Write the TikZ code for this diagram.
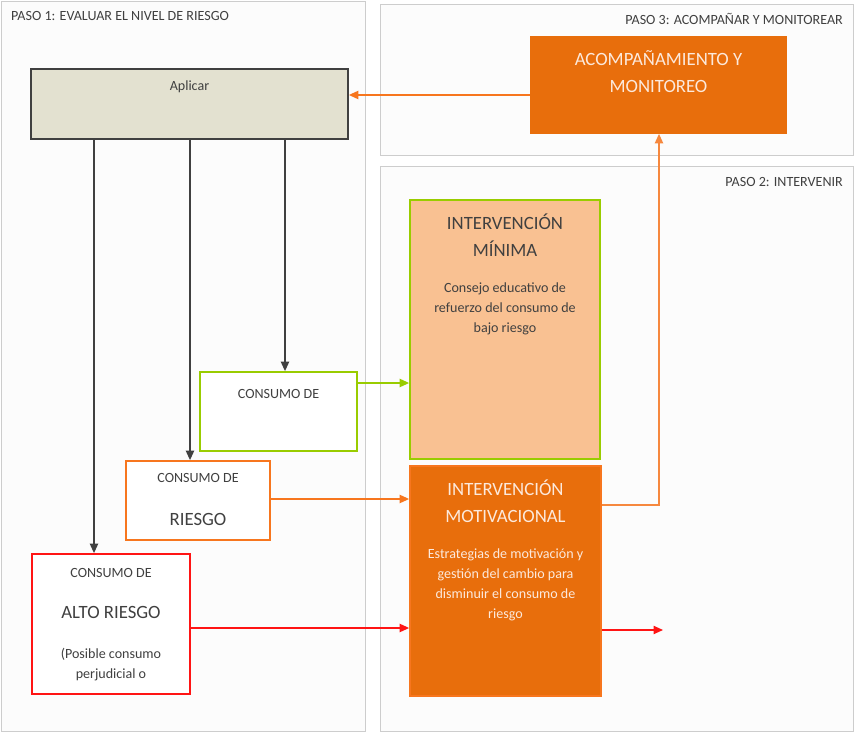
\documentclass[tikz,border=0pt]{standalone}
\usepackage{fontspec}
\setmainfont{Carlito}
\usetikzlibrary{arrows.meta}
\definecolor{panelline}{RGB}{205,205,205}
\definecolor{panelfill}{RGB}{252,252,252}
\definecolor{textgray}{RGB}{64,64,64}
\definecolor{aplfill}{RGB}{227,225,208}
\definecolor{darkline}{RGB}{64,64,64}
\definecolor{lowgreen}{RGB}{153,204,0}
\definecolor{midorange}{RGB}{247,118,30}
\definecolor{darkorange}{RGB}{232,110,12}
\definecolor{softorange}{RGB}{249,193,146}
\definecolor{uporange}{RGB}{246,136,62}
\definecolor{highred}{RGB}{255,20,20}
\definecolor{lighttext}{RGB}{252,233,220}
\begin{document}
\begin{tikzpicture}[x=0.03cm, y=-0.03cm,
  panel/.style = {draw=panelline, fill=panelfill, line width=0.8pt},
  box/.style = {draw, line width=1.5pt, inner sep=0pt},
  txt/.style = {text=textgray, font=\fontsize{12}{17}\selectfont, align=center, inner sep=0pt},
  bigtxt/.style = {text=textgray, font=\fontsize{16}{23}\selectfont, align=center, inner sep=0pt},
  conn/.style = {line width=1.2pt, -{Triangle[length=8pt,width=7pt]}}]
\useasboundingbox (0,0) rectangle (855,732);
\fill[white] (0,0) rectangle (855,732);
% the three steps
\draw[panel] (1,1) rectangle (365,731);
\draw[panel] (380,4) rectangle (853,155);
\draw[panel] (380,166) rectangle (853,731);
\node[txt, anchor=west] (paso1) at (11,16) {PASO 1: EVALUAR EL NIVEL DE RIESGO};
\node[txt, anchor=east] (paso3) at (843,19) {PASO 3: ACOMPAÑAR Y MONITOREAR};
\node[txt, anchor=east] (paso2) at (843,182) {PASO 2: INTERVENIR};
% boxes
\node[box, draw=darkline, fill=aplfill, minimum width=9.51cm, minimum height=2.1cm] (apl) at (189.5,104) {};
\node[box, draw=darkorange, fill=darkorange, minimum width=7.65cm, minimum height=2.88cm] (acomp) at (658.5,85) {};
\node[box, draw=lowgreen, fill=white, minimum width=4.71cm, minimum height=2.37cm] (bajo) at (278.5,411.5) {};
\node[box, draw=midorange, fill=white, minimum width=4.32cm, minimum height=2.37cm] (riesgo) at (198,500.5) {};
\node[box, draw=highred, fill=white, minimum width=4.74cm, minimum height=4.2cm] (alto) at (111,624) {};
\node[box, draw=lowgreen, fill=softorange, minimum width=5.7cm, minimum height=7.77cm] (minima) at (505,329.5) {};
\node[box, draw=midorange, fill=darkorange, minimum width=5.73cm, minimum height=6.9cm] (motiv) at (505.5,581) {};
% texts in the boxes
\node[txt] (aplT) at (apl.north |- 0,87) {Aplicar};
\node[bigtxt, text=lighttext] (acompT) at (acomp.north |- 0,72) {ACOMPAÑAMIENTO Y\\MONITOREO};
\node[txt] (bajoT) at (bajo.north |- 0,394) {CONSUMO DE};
\node[txt] (riesgoT) at (riesgo.north |- 0,478) {CONSUMO DE};
\node[bigtxt] (riesgoB) at (riesgo.north |- 0,519) {RIESGO};
\node[txt] (altoT) at (alto.north |- 0,573) {CONSUMO DE};
\node[bigtxt] (altoB) at (alto.north |- 0,612) {ALTO RIESGO};
\node[txt] (altoC) at (alto.north |- 0,665) {(Posible consumo\\perjudicial o};
\node[bigtxt] (minimaT) at (minima.north |- 0,235) {INTERVENCIÓN\\MÍNIMA};
\node[txt] (minimaC) at (minima.north |- 0,309) {Consejo educativo de\\refuerzo del consumo de\\bajo riesgo};
\node[bigtxt, text=lighttext] (motivT) at (motiv.north |- 0,501) {INTERVENCIÓN\\MOTIVACIONAL};
\node[txt, text=lighttext] (motivC) at (motiv.north |- 0,585) {Estrategias de motivación y\\gestión del cambio para\\disminuir el consumo de\\riesgo};
% connectors
\coordinate (salida) at (663,630);
\draw[conn, midorange] (acomp.west |- 0,95) -- (apl.east |- 0,95);
\draw[conn, darkline] (apl.south -| 94,0) -- (alto.north -| 94,0);
\draw[conn, darkline] (apl.south -| 190,0) -- (riesgo.north -| 190,0);
\draw[conn, darkline] (apl.south -| 285,0) -- (bajo.north -| 285,0);
\draw[conn, lowgreen] (bajo.east |- 0,383) -- (minima.west |- 0,383);
\draw[conn, midorange] (riesgo.east |- 0,499) -- (motiv.west |- 0,499);
\draw[conn, highred] (alto.east |- 0,628) -- (motiv.west |- 0,628);
\draw[conn, highred] (motiv.east |- salida) -- (salida);
\draw[conn, uporange] (motiv.east |- 0,505) -| (acomp.south -| 659,0);
\end{tikzpicture}
\end{document}
